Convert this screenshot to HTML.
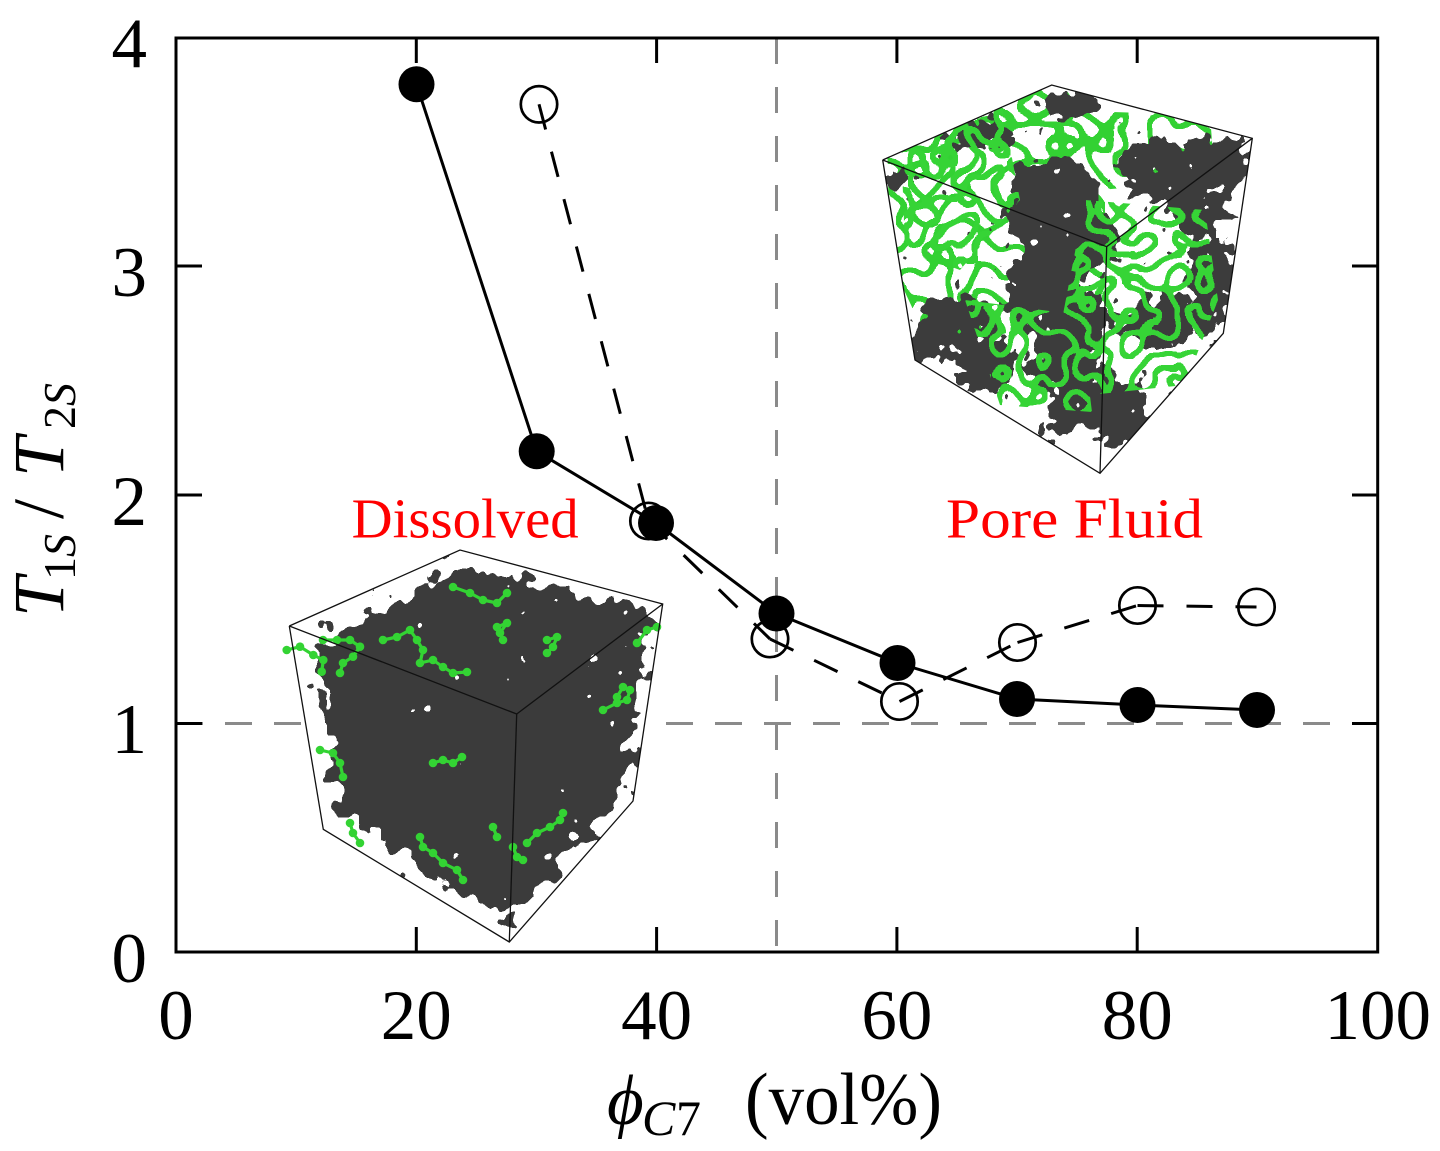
<!DOCTYPE html>
<html>
<head>
<meta charset="utf-8">
<style>
  html,body{margin:0;padding:0;background:#fff;}
  svg{display:block;}
  text{font-family:"Liberation Serif","DejaVu Serif",serif;}
</style>
</head>
<body>
<svg width="1440" height="1151" viewBox="0 0 1440 1151" xmlns="http://www.w3.org/2000/svg">
  <defs>
    <clipPath id="clipD">
      <polygon points="289.3,626 460,550 662.7,604 633,801 509.3,942 323.3,829.3"/>
    </clipPath>
    <clipPath id="clipP">
      <polygon points="882.7,160 1051.7,85 1252.3,138.3 1223.3,333.3 1100,473.3 915,360"/>
    </clipPath>
    <filter id="gblobD" x="-15%" y="-15%" width="130%" height="130%" color-interpolation-filters="sRGB">
      <feGaussianBlur in="SourceAlpha" stdDeviation="11" result="b"/>
      <feTurbulence type="fractalNoise" baseFrequency="0.06" numOctaves="2" seed="4" result="t"/>
      <feColorMatrix in="t" type="matrix" values="0 0 0 0 0  0 0 0 0 0  0 0 0 0 0  1 0 0 0 0" result="n"/>
      <feComposite in="b" in2="n" operator="arithmetic" k1="0" k2="1" k3="1.7" k4="-0.85" result="s"/>
      <feComponentTransfer in="s" result="m"><feFuncA type="discrete" tableValues="0 1"/></feComponentTransfer>
      <feFlood flood-color="#3b3b3b"/>
      <feComposite in2="m" operator="in"/>
    </filter>
    <filter id="gblobP" x="-15%" y="-15%" width="130%" height="130%" color-interpolation-filters="sRGB">
      <feGaussianBlur in="SourceAlpha" stdDeviation="7" result="b"/>
      <feTurbulence type="fractalNoise" baseFrequency="0.08" numOctaves="2" seed="9" result="t"/>
      <feColorMatrix in="t" type="matrix" values="0 0 0 0 0  0 0 0 0 0  0 0 0 0 0  1 0 0 0 0" result="n"/>
      <feComposite in="b" in2="n" operator="arithmetic" k1="0" k2="1" k3="1.8" k4="-0.9" result="s"/>
      <feComponentTransfer in="s" result="m"><feFuncA type="discrete" tableValues="0 1"/></feComponentTransfer>
      <feFlood flood-color="#3c3c3c"/>
      <feComposite in2="m" operator="in"/>
    </filter>
    <filter id="gnet1" x="0" y="0" width="1" height="1" color-interpolation-filters="sRGB">
      <feTurbulence type="fractalNoise" baseFrequency="0.04" numOctaves="1" seed="7" result="t"/>
      <feColorMatrix in="t" type="matrix" values="0 0 0 0 0  0 0 0 0 0  0 0 0 0 0  1 0 0 0 0" result="n"/>
      <feComponentTransfer in="n" result="band"><feFuncA type="discrete" tableValues="0 0 0 0 0 0 0 0 0 0 0 0 1 0 0 0 0 0 0 0 0 0 0 0 0"/></feComponentTransfer>
      <feMorphology in="band" operator="dilate" radius="1.5" result="bd"/>
      <feComposite in="bd" in2="SourceAlpha" operator="in" result="m"/>
      <feFlood flood-color="#33d133"/>
      <feComposite in2="m" operator="in"/>
    </filter>
    <filter id="gnet2" x="0" y="0" width="1" height="1" color-interpolation-filters="sRGB">
      <feTurbulence type="fractalNoise" baseFrequency="0.045" numOctaves="1" seed="13" result="t"/>
      <feColorMatrix in="t" type="matrix" values="0 0 0 0 0  0 0 0 0 0  0 0 0 0 0  1 0 0 0 0" result="n"/>
      <feComponentTransfer in="n" result="band"><feFuncA type="discrete" tableValues="0 0 0 0 0 0 0 0 0 0 0 0 1 0 0 0 0 0 0 0 0 0 0 0 0"/></feComponentTransfer>
      <feMorphology in="band" operator="dilate" radius="1.5" result="bd"/>
      <feComposite in="bd" in2="SourceAlpha" operator="in" result="m"/>
      <feFlood flood-color="#36d436"/>
      <feComposite in2="m" operator="in"/>
    </filter>
    <marker id="ball" markerWidth="10" markerHeight="10" refX="5" refY="5" markerUnits="userSpaceOnUse">
      <circle cx="5" cy="5" r="4.3" fill="#33d333"/>
    </marker>
  </defs>

  <rect x="0" y="0" width="1440" height="1151" fill="#fff"/>

  <line x1="176" y1="723.5" x2="1378" y2="723.5" stroke="#8a8a8a" stroke-width="3" stroke-dasharray="27 22"/>
  <line x1="776.5" y1="38" x2="776.5" y2="952" stroke="#8a8a8a" stroke-width="3" stroke-dasharray="26 23"/>

  <!-- Dissolved cube -->
  <g>
    <polygon points="289.3,626 460,550 662.7,604 633,801 509.3,942 323.3,829.3" fill="#fff"/>
    <g clip-path="url(#clipD)">
      <g filter="url(#gblobD)">
        <polygon points="314,645 460,568 652,612 624,793 507,920 340,815" fill="#000"/>
      </g>
    </g>
    <g fill="none" stroke="#33d333" stroke-width="3.2" stroke-linejoin="round" marker-start="url(#ball)" marker-mid="url(#ball)" marker-end="url(#ball)">
      <polyline points="286.7,650 300,646.7 313.3,655 323.3,660 321.7,671.7"/>
      <polyline points="323,640 337,640 350,640 360,646.7 353,656.7 343,663 340,673"/>
      <polyline points="383,640 397,637 410,630 417,640 423,650 420,663 433,660 443,667 453,673 467,672"/>
      <polyline points="453,587 470,593 483,600 497,603 507,593"/>
      <polyline points="497,627 507,623 500,633 503,640"/>
      <polyline points="547,640 557,637 553,647 547,653"/>
      <polyline points="637,643 647,630 657,627"/>
      <polyline points="603,710 617,703 627,700 630,690 623,687 617,697"/>
      <polyline points="320,750 333,753 340,763 343,777"/>
      <polyline points="433,763 443,760 453,763 462,757"/>
      <polyline points="350,823 353,833 360,843"/>
      <polyline points="420,837 423,847 433,853 443,863 457,870 463,880"/>
      <polyline points="527,843 537,833 550,827 560,820 563,813"/>
      <polyline points="513,847 517,857 523,860"/>
      <polyline points="493,827 497,837"/>
    </g>
    <g stroke="#111" stroke-width="1.3" fill="none">
      <polyline points="289.3,626 460,550 662.7,604 633,801 509.3,942 323.3,829.3 289.3,626"/>
      <polyline points="289.3,626 516.7,714 662.7,604"/>
      <line x1="516.7" y1="714" x2="509.3" y2="942"/>
    </g>
  </g>

  <!-- Pore Fluid cube -->
  <g>
    <polygon points="882.7,160 1051.7,85 1252.3,138.3 1223.3,333.3 1100,473.3 915,360" fill="#fff"/>
    <g clip-path="url(#clipP)">
      <g filter="url(#gnet1)">
        <polygon points="886,100 1060,80 1105,150 1105,300 1000,335 925,335 890,260" fill="#000"/>
        <polygon points="1050,110 1210,115 1215,180 1100,190" fill="#000"/>
      </g>
      <g filter="url(#gblobP)" fill="#000">
        <ellipse cx="1068" cy="103" rx="32" ry="15"/>
        <ellipse cx="980" cy="135" rx="36" ry="14"/>
        <ellipse cx="1055" cy="190" rx="44" ry="32"/>
        <ellipse cx="1078" cy="240" rx="42" ry="36"/>
        <ellipse cx="1042" cy="290" rx="38" ry="42"/>
        <ellipse cx="1084" cy="322" rx="30" ry="30"/>
        <ellipse cx="1062" cy="362" rx="36" ry="30"/>
        <ellipse cx="1030" cy="215" rx="28" ry="27"/>
        <ellipse cx="1165" cy="168" rx="48" ry="30"/>
        <ellipse cx="1217" cy="162" rx="36" ry="24"/>
        <ellipse cx="1198" cy="208" rx="32" ry="22"/>
        <ellipse cx="1210" cy="272" rx="25" ry="38"/>
        <ellipse cx="1200" cy="317" rx="22" ry="22"/>
        <ellipse cx="1160" cy="322" rx="32" ry="26"/>
        <ellipse cx="955" cy="320" rx="42" ry="24"/>
        <ellipse cx="985" cy="366" rx="32" ry="26"/>
        <ellipse cx="930" cy="345" rx="20" ry="16"/>
        <ellipse cx="1100" cy="402" rx="47" ry="30"/>
        <ellipse cx="1125" cy="430" rx="28" ry="18"/>
        <ellipse cx="1058" cy="420" rx="15" ry="15"/>
        <ellipse cx="898" cy="180" rx="11" ry="12"/>
      </g>
      <g filter="url(#gnet2)">
        <polygon points="1085,200 1205,210 1218,300 1185,385 1090,395 1060,330" fill="#000"/>
        <polygon points="965,300 1080,315 1092,412 1000,405" fill="#000"/>
        <polygon points="900,110 1000,95 1020,200 960,270 905,250" fill="#000"/>
      </g>
    </g>
    <g stroke="#111" stroke-width="1.3" fill="none">
      <polyline points="882.7,160 1051.7,85 1252.3,138.3 1223.3,333.3 1100,473.3 915,360 882.7,160"/>
      <polyline points="882.7,160 1106.7,246.7 1252.3,138.3"/>
      <line x1="1106.7" y1="246.7" x2="1100" y2="473.3"/>
    </g>
  </g>

  <!-- frame -->
  <rect x="176" y="38" width="1201.7" height="914" fill="none" stroke="#000" stroke-width="3"/>
  <g stroke="#000" stroke-width="3">
    <line x1="416.3" y1="952" x2="416.3" y2="927"/>
    <line x1="656.6" y1="952" x2="656.6" y2="927"/>
    <line x1="896.9" y1="952" x2="896.9" y2="927"/>
    <line x1="1137.2" y1="952" x2="1137.2" y2="927"/>
    <line x1="416.3" y1="38" x2="416.3" y2="63"/>
    <line x1="656.6" y1="38" x2="656.6" y2="63"/>
    <line x1="896.9" y1="38" x2="896.9" y2="63"/>
    <line x1="1137.2" y1="38" x2="1137.2" y2="63"/>
    <line x1="176" y1="266" x2="202" y2="266"/>
    <line x1="176" y1="495" x2="202" y2="495"/>
    <line x1="176" y1="723.5" x2="202" y2="723.5"/>
    <line x1="1377.7" y1="266" x2="1352" y2="266"/>
    <line x1="1377.7" y1="495" x2="1352" y2="495"/>
    <line x1="1377.7" y1="723.5" x2="1352" y2="723.5"/>
  </g>

  <!-- open-circle series -->
  <g stroke="#000" stroke-width="3" fill="none" stroke-dasharray="26 23">
    <line x1="539" y1="104.3" x2="648.5" y2="521"/>
    <line x1="648.5" y1="521" x2="770" y2="639"/>
    <line x1="770" y1="639" x2="899.5" y2="701.5"/>
    <line x1="899.5" y1="701.5" x2="1017.5" y2="642.5"/>
    <line x1="1017.5" y1="642.5" x2="1137.5" y2="605.5"/>
    <line x1="1137.5" y1="605.5" x2="1256.5" y2="607"/>
  </g>
  <g stroke="#000" stroke-width="2.7" fill="none">
    <circle cx="539" cy="104.3" r="18.2"/>
    <circle cx="648.5" cy="521" r="18.2"/>
    <circle cx="770" cy="639" r="18.2"/>
    <circle cx="899.5" cy="701.5" r="18.2"/>
    <circle cx="1017.5" cy="642.5" r="18.2"/>
    <circle cx="1137.5" cy="605.5" r="18.2"/>
    <circle cx="1256.5" cy="607" r="18.2"/>
  </g>

  <!-- filled series -->
  <polyline points="416.5,84.3 536.7,451.3 656,523 776.5,613.5 897.5,663 1017,699 1137.5,705 1257,710" fill="none" stroke="#000" stroke-width="3" stroke-linejoin="round"/>
  <g fill="#000">
    <circle cx="416.5" cy="84.3" r="18"/>
    <circle cx="536.7" cy="451.3" r="18"/>
    <circle cx="656" cy="523" r="18"/>
    <circle cx="776.5" cy="613.5" r="18"/>
    <circle cx="897.5" cy="663" r="18"/>
    <circle cx="1017" cy="699" r="18"/>
    <circle cx="1137.5" cy="705" r="18"/>
    <circle cx="1257" cy="710" r="18"/>
  </g>

  <text x="351.7" y="537.3" font-size="56" fill="#f00" textLength="227" lengthAdjust="spacingAndGlyphs">Dissolved</text>
  <text x="946" y="537.3" font-size="56" fill="#f00" textLength="257" lengthAdjust="spacingAndGlyphs">Pore Fluid</text>

  <g font-size="71" text-anchor="end" fill="#000">
    <text x="147" y="67">4</text>
    <text x="147" y="296">3</text>
    <text x="147" y="525">2</text>
    <text x="147" y="753">1</text>
    <text x="147" y="982">0</text>
  </g>
  <g font-size="71" text-anchor="middle" fill="#000">
    <text x="176" y="1039">0</text>
    <text x="416.3" y="1039">20</text>
    <text x="656.6" y="1039">40</text>
    <text x="896.9" y="1039">60</text>
    <text x="1137.2" y="1039">80</text>
    <text x="1377.7" y="1039">100</text>
  </g>

  <text transform="translate(63,617) rotate(-90)" font-size="72" fill="#000"><tspan x="0" font-style="italic">T</tspan><tspan x="37" dy="12" font-size="46">1</tspan><tspan x="60" font-size="46" font-style="italic">S</tspan><tspan x="98" dy="-12">/</tspan><tspan x="140" font-style="italic">T</tspan><tspan x="188" dy="12" font-size="46">2</tspan><tspan x="211" font-size="46" font-style="italic">S</tspan></text>

  <text x="607" y="1124" font-size="71" font-style="italic" fill="#000">ϕ</text>
  <text x="642" y="1135" font-size="50" font-style="italic" fill="#000">C</text>
  <text x="676" y="1135" font-size="50" fill="#000">7</text>
  <text x="745" y="1124" font-size="74" fill="#000" textLength="197" lengthAdjust="spacingAndGlyphs">(vol%)</text>
</svg>
</body>
</html>
